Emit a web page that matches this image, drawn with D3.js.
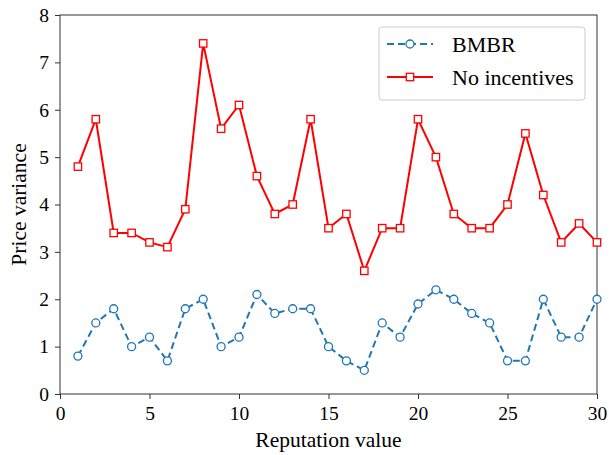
<!DOCTYPE html>
<html>
<head>
<meta charset="utf-8">
<script src="https://cdn.jsdelivr.net/npm/d3@7"></script>
<style>
  body { margin: 0; background: #fff; }
  svg text { font-family: "Liberation Serif", "Times New Roman", serif !important; fill: #000; }
</style>
</head>
<body>
<div id="chart"></div>
<script>
const width = 609;
const height = 455;

// data
const reputation = d3.range(1, 31);
const bmbr = [0.8, 1.5, 1.8, 1.0, 1.2, 0.7, 1.8, 2.0, 1.0, 1.2,
              2.1, 1.7, 1.8, 1.8, 1.0, 0.7, 0.5, 1.5, 1.2, 1.9,
              2.2, 2.0, 1.7, 1.5, 0.7, 0.7, 2.0, 1.2, 1.2, 2.0];
const noIncentives = [4.8, 5.8, 3.4, 3.4, 3.2, 3.1, 3.9, 7.4, 5.6, 6.1,
                      4.6, 3.8, 4.0, 5.8, 3.5, 3.8, 2.6, 3.5, 3.5, 5.8,
                      5.0, 3.8, 3.5, 3.5, 4.0, 5.5, 4.2, 3.2, 3.6, 3.2];
const xTicks = [0, 5, 10, 15, 20, 25, 30];
const yTicks = [0, 1, 2, 3, 4, 5, 6, 7, 8];

const margin = { top: 15, right: 12, bottom: 61, left: 60 };

const svg = d3.select("#chart").append("svg")
    .attr("width", width)
    .attr("height", height);

const x = d3.scaleLinear().domain([0, 30]).range([margin.left, width - margin.right]);
const y = d3.scaleLinear().domain([0, 8]).range([height - margin.bottom, margin.top]);

// axes
svg.append("g")
    .attr("transform", `translate(0,${height - margin.bottom})`)
    .call(d3.axisBottom(x).tickValues(xTicks).tickSize(5).tickPadding(7))
    .attr("font-family", null).attr("font-size", null)
    .call(g => g.selectAll("text").style("font-size", "19.5px"));

svg.append("g")
    .attr("transform", `translate(${margin.left},0)`)
    .call(d3.axisLeft(y).tickValues(yTicks).tickSize(5).tickPadding(6))
    .attr("font-family", null).attr("font-size", null)
    .call(g => g.selectAll("text").style("font-size", "19.5px"));

svg.selectAll(".domain").remove();
svg.selectAll(".tick line").attr("stroke", "#333");

// frame
svg.append("rect")
    .attr("x", margin.left).attr("y", margin.top)
    .attr("width", width - margin.left - margin.right)
    .attr("height", height - margin.top - margin.bottom)
    .attr("fill", "none").attr("stroke", "#333").attr("stroke-width", 1);

// axis titles
svg.append("text")
    .attr("x", (margin.left + width - margin.right) / 2)
    .attr("y", height - 8)
    .attr("text-anchor", "middle")
    .style("font-size", "21.5px")
    .text("Reputation value");

svg.append("text")
    .attr("transform", `translate(26,${(margin.top + height - margin.bottom) / 2}) rotate(-90)`)
    .attr("text-anchor", "middle")
    .style("font-size", "21.5px")
    .text("Price variance");

const line = d3.line().x((d, i) => x(reputation[i])).y(d => y(d));

// BMBR
svg.append("path")
    .datum(bmbr)
    .attr("d", line)
    .attr("fill", "none")
    .attr("stroke", "#1f77b4")
    .attr("stroke-width", 2)
    .attr("stroke-dasharray", "7,4");

svg.selectAll(".bm")
    .data(bmbr)
    .join("circle")
    .attr("cx", (d, i) => x(reputation[i]))
    .attr("cy", d => y(d))
    .attr("r", 4)
    .attr("fill", "#fff")
    .attr("stroke", "#1f77b4")
    .attr("stroke-width", 1.3);

// No incentives
svg.append("path")
    .datum(noIncentives)
    .attr("d", line)
    .attr("fill", "none")
    .attr("stroke", "red")
    .attr("stroke-width", 2);

svg.selectAll(".ni")
    .data(noIncentives)
    .join("rect")
    .attr("x", (d, i) => x(reputation[i]) - 3.7)
    .attr("y", d => y(d) - 3.7)
    .attr("width", 7.4)
    .attr("height", 7.4)
    .attr("fill", "#fff")
    .attr("stroke", "red")
    .attr("stroke-width", 1.3);

// legend
const legend = svg.append("g");
legend.append("rect")
    .attr("x", 379).attr("y", 27).attr("width", 206).attr("height", 73)
    .attr("rx", 3)
    .attr("fill", "#fff").attr("stroke", "#ccc");

const items = [
  { label: "BMBR", color: "#1f77b4", dash: "7,4", mark: "circle", yy: 44 },
  { label: "No incentives", color: "red", dash: null, mark: "square", yy: 77 }
];
items.forEach(it => {
  legend.append("line")
      .attr("x1", 387).attr("x2", 433).attr("y1", it.yy).attr("y2", it.yy)
      .attr("stroke", it.color).attr("stroke-width", 2)
      .attr("stroke-dasharray", it.dash);
  if (it.mark === "circle") {
    legend.append("circle").attr("cx", 410).attr("cy", it.yy).attr("r", 4)
        .attr("fill", "#fff").attr("stroke", it.color).attr("stroke-width", 1.3);
  } else {
    legend.append("rect").attr("x", 406.3).attr("y", it.yy - 3.7).attr("width", 7.4).attr("height", 7.4)
        .attr("fill", "#fff").attr("stroke", it.color).attr("stroke-width", 1.3);
  }
  legend.append("text")
      .attr("x", 452).attr("y", it.yy)
      .attr("dy", "0.35em")
      .style("font-size", "22px")
      .text(it.label);
});
</script>
</body>
</html>
